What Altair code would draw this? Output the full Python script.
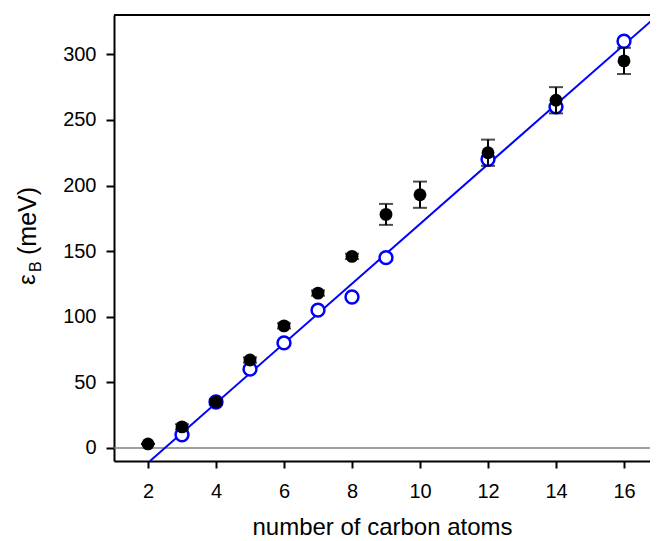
import altair as alt
import pandas as pd

# ---- data ----
carbons = [2, 3, 4, 5, 6, 7, 8, 9, 10, 12, 14, 16]
eps_meas = [3, 16, 35, 67, 93, 118, 146, 178, 193, 225, 265, 295]
eps_err = [0, 2, 2, 2, 2, 2, 2, 8, 10, 10, 10, 10]

calc_carbons = [3, 4, 5, 6, 7, 8, 9, 12, 14, 16]
eps_calc = [10, 35, 60, 80, 105, 115, 145, 220, 260, 310]

fit_x = [2.06, 17]
fit_y = [-10, 330]

x_ticks = [2, 4, 6, 8, 10, 12, 14, 16]
y_ticks = [0, 50, 100, 150, 200, 250, 300]
x_title = "number of carbon atoms"
y_title_symbol = "ε"
y_title_sub = "B"
y_title_unit = "(meV)"

FONT = "Liberation Sans"
W, H = 536, 446
BLUE = "#0000ff"

meas = pd.DataFrame({"x": carbons, "y": eps_meas, "err": eps_err})
meas["lo"] = meas["y"] - meas["err"]
meas["hi"] = meas["y"] + meas["err"]
calc = pd.DataFrame({"x": calc_carbons, "y": eps_calc})
fit = pd.DataFrame({"x": fit_x, "y": fit_y})

xs = alt.Scale(domain=[1, 1 + W / 34], nice=False, zero=False)
ys = alt.Scale(domain=[-10, 330], nice=False, zero=False)

x_axis = alt.Axis(values=x_ticks, title=x_title, tickSize=7, labelPadding=13,
                  labelFontSize=20, titlePadding=14, titleFontSize=24,
                  titleFontWeight="normal")
y_axis = alt.Axis(values=y_ticks, title=None, tickSize=8, labelPadding=10,
                  labelFontSize=20)

X = alt.X("x:Q", scale=xs, axis=x_axis)
Y = alt.Y("y:Q", scale=ys, axis=y_axis)

zero_line = alt.Chart(pd.DataFrame({"y": [0]})).mark_rule(
    color="#808080", strokeWidth=1.5).encode(y=alt.Y("y:Q", scale=ys, axis=y_axis))

fit_line = alt.Chart(fit).mark_line(color=BLUE, strokeWidth=2, clip=True).encode(x=X, y=Y)

calc_pts = alt.Chart(calc).mark_point(
    shape="circle", filled=False, fill="white", fillOpacity=1, stroke=BLUE,
    strokeWidth=2.5, size=165, opacity=1).encode(x=X, y=Y)

err_rule = alt.Chart(meas).mark_rule(color="black", strokeWidth=2).encode(
    x=X, y=alt.Y("lo:Q", scale=ys, axis=y_axis), y2="hi:Q")
cap_lo = alt.Chart(meas).mark_tick(color="black", orient="horizontal", size=14,
                                   thickness=2).encode(x=X, y=alt.Y("lo:Q", scale=ys, axis=y_axis))
cap_hi = alt.Chart(meas).mark_tick(color="black", orient="horizontal", size=14,
                                   thickness=2).encode(x=X, y=alt.Y("hi:Q", scale=ys, axis=y_axis))
meas_pts = alt.Chart(meas).mark_point(
    shape="circle", filled=True, color="black", size=165, opacity=1).encode(x=X, y=Y)

one = pd.DataFrame({"a": [0]})
top_border = alt.Chart(one).mark_rule(color="black", strokeWidth=2).encode(
    x=alt.value(0), x2=alt.value(W), y=alt.value(0))

t_sym = alt.Chart(pd.DataFrame({"t": [y_title_symbol]})).mark_text(
    angle=270, align="left", baseline="middle", fontSize=24, font=FONT, color="black"
).encode(x=alt.value(-86), y=alt.value(270), text="t:N")
t_sub = alt.Chart(pd.DataFrame({"t": [y_title_sub]})).mark_text(
    angle=270, align="left", baseline="middle", fontSize=16, font=FONT, color="black"
).encode(x=alt.value(-78), y=alt.value(257), text="t:N")
t_unit = alt.Chart(pd.DataFrame({"t": [y_title_unit]})).mark_text(
    angle=270, align="left", baseline="middle", fontSize=25, font=FONT, color="black"
).encode(x=alt.value(-86), y=alt.value(240), text="t:N")

chart = alt.layer(
    zero_line, fit_line, calc_pts, err_rule, cap_lo, cap_hi, meas_pts,
    top_border, t_sym, t_sub, t_unit
).properties(
    width=W, height=H,
    padding={"left": 106, "top": 7, "right": 0, "bottom": 80},
    autosize=alt.AutoSizeParams(type="none"),
    background="white",
).configure_view(stroke=None).configure_axis(
    grid=False, domainColor="black", domainWidth=2, tickColor="black", tickWidth=2,
    labelColor="black", labelFont=FONT, labelFontSize=20, titleFont=FONT,
    titleColor="black",
)

chart.save("out.html", embed_options={"renderer": "svg", "actions": False})
